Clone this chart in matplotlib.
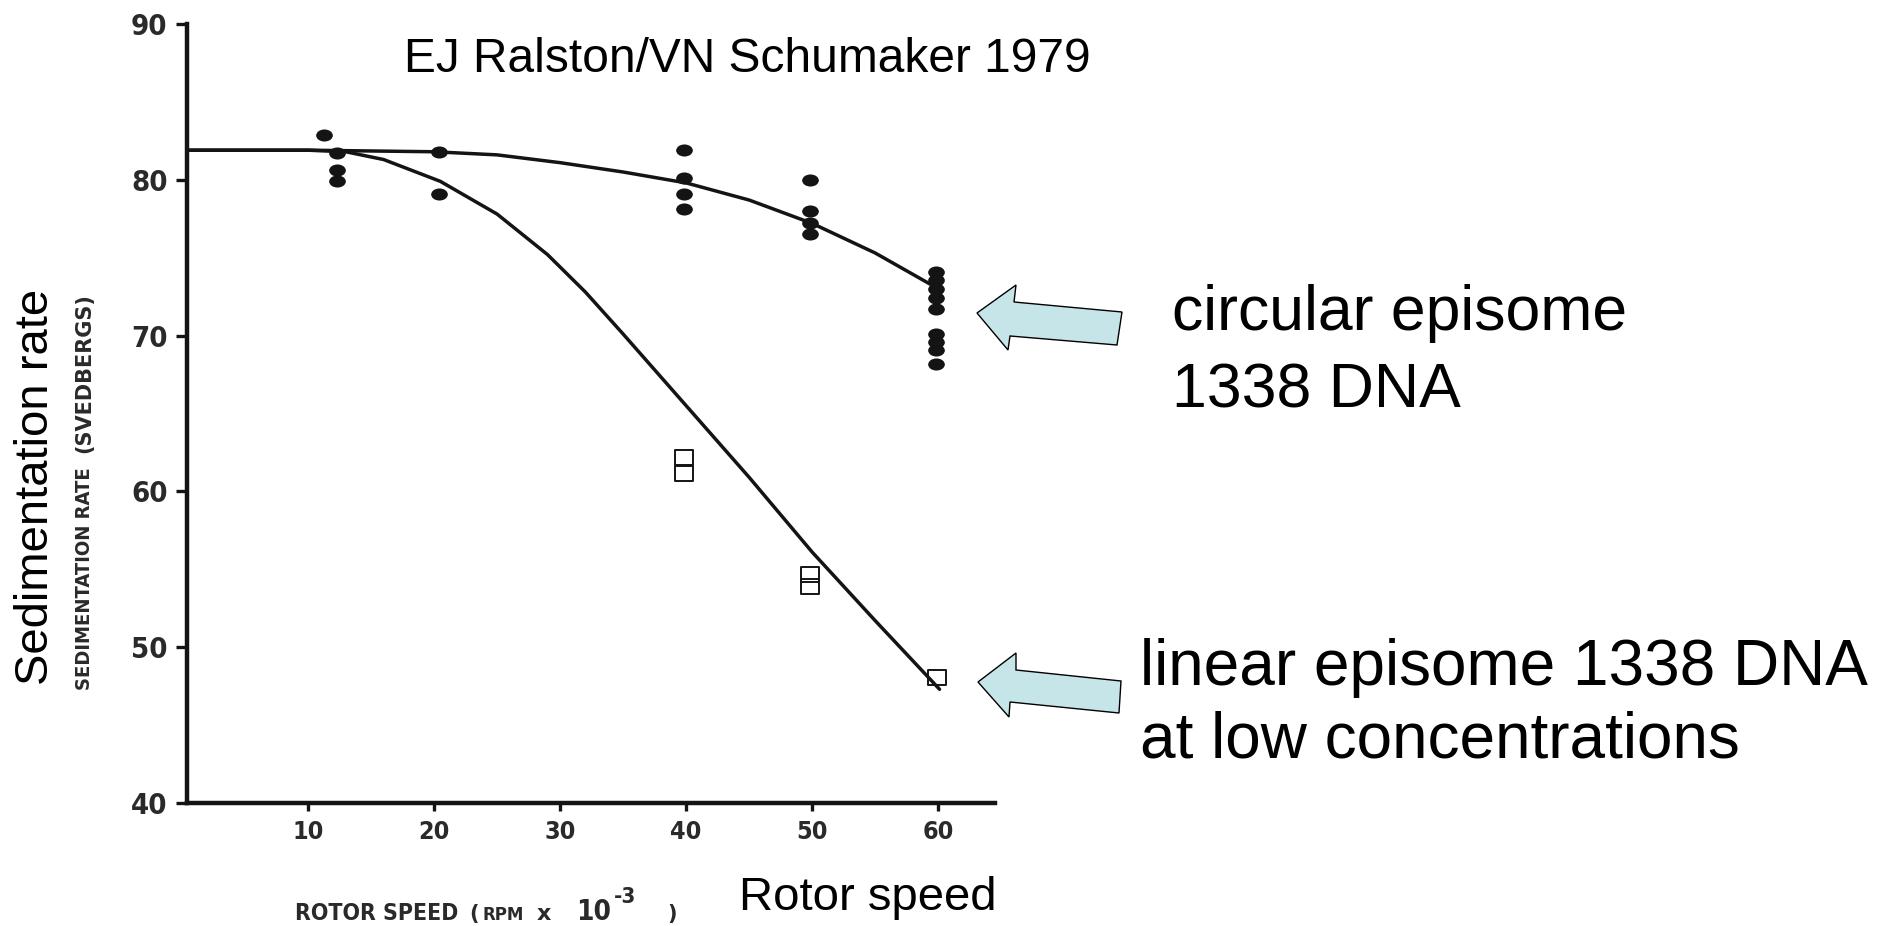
import matplotlib
matplotlib.use("Agg")
import matplotlib.pyplot as plt
from matplotlib.patches import Polygon
from matplotlib.path import Path
from matplotlib.transforms import Affine2D

# ---------------- data ----------------
circ_speed = [11.3, 12.3, 12.3, 12.3, 20.4, 20.4,
              39.8, 39.8, 39.8, 39.8,
              49.8, 49.8, 49.8, 49.8,
              59.8, 59.8, 59.8, 59.8, 59.8, 59.8, 59.8, 59.8, 59.8]
circ_sed = [82.9, 81.7, 80.6, 79.9, 81.8, 79.1,
            81.9, 80.1, 79.1, 78.1,
            80.0, 78.0, 77.2, 76.5,
            74.1, 73.6, 73.0, 72.4, 71.7, 70.1, 69.6, 69.1, 68.2]

lin_speed = [39.8, 39.8, 49.8, 49.8, 59.9]
lin_sed = [62.2, 61.2, 54.7, 53.9, 48.1]

circ_curve_x = [0, 10, 20, 25, 30, 35, 40, 45, 50, 55, 59.8]
circ_curve_y = [81.9, 81.9, 81.8, 81.6, 81.1, 80.5, 79.8, 78.7, 77.2, 75.3, 73.1]

lin_curve_x = [0, 10, 13, 16, 20.5, 25, 29, 32, 35, 40, 45, 50, 55, 60.1]
lin_curve_y = [81.9, 81.9, 81.8, 81.3, 79.9, 77.8, 75.2, 72.8, 70.1, 65.5, 60.9, 56.1, 51.7, 47.3]

x_ticks = [10, 20, 30, 40, 50, 60]
y_ticks = [40, 50, 60, 70, 80, 90]

title_text = "EJ Ralston/VN Schumaker 1979"
circ_label = ["circular episome", "1338 DNA"]
lin_label = ["linear episome 1338 DNA", "at low concentrations"]

# ---------------- layout helpers ----------------
W, H = 1891, 926
def fx(px):
    return px / W
def fy(py):
    return 1 - py / H

plt.rcParams['font.family'] = ['Liberation Sans', 'DejaVu Sans']

fig = plt.figure(figsize=(W / 100, H / 100), dpi=100)
fig.patch.set_facecolor('white')

ax = fig.add_axes([fx(187), fy(803), fx(995) - fx(187), fy(24) - fy(803)])
ax.set_xlim(0.4, 64.5)
ax.set_ylim(40, 90)

ink = '#141414'
grey = '#2a2a2a'
typ_c = dict(family='DejaVu Sans', stretch='condensed', weight='bold', color=grey)
typ = dict(family='DejaVu Sans', weight='bold', color=grey)

for s in ['top', 'right']:
    ax.spines[s].set_visible(False)
for s in ['left', 'bottom']:
    ax.spines[s].set_linewidth(3.2)
    ax.spines[s].set_color(ink)

ax.set_xticks(x_ticks)
ax.set_yticks(y_ticks)
ax.set_xticklabels([str(v) for v in x_ticks], fontsize=18, **typ_c)
ax.set_yticklabels([str(v) for v in y_ticks], fontsize=21, **typ_c)
ax.tick_params(axis='both', direction='out', width=2.4, color=ink)
ax.tick_params(axis='y', length=8, pad=6)
ax.tick_params(axis='x', length=6, pad=6)

# curves
ax.plot(circ_curve_x, circ_curve_y, color=ink, lw=2.5, solid_capstyle='round', zorder=3)
ax.plot(lin_curve_x, lin_curve_y, color=ink, lw=2.5, solid_capstyle='round', zorder=3)

# markers
ellipse = Path.unit_circle().transformed(Affine2D().scale(1.38, 1.0))
rect = Path([(-1.25, -1), (1.25, -1), (1.25, 1), (-1.25, 1), (-1.25, -1)],
            [Path.MOVETO, Path.LINETO, Path.LINETO, Path.LINETO, Path.CLOSEPOLY])
ax.plot(circ_speed, circ_sed, linestyle='none', marker=ellipse, ms=12,
        color=ink, markeredgewidth=0, zorder=4)
ax.plot(lin_speed, lin_sed, linestyle='none', marker=rect, ms=13.5,
        markerfacecolor='none', markeredgecolor=ink, markeredgewidth=1.4, zorder=4)

# ---------------- texts ----------------
fig.text(fx(404), fy(72), title_text, fontsize=34.5, ha='left', va='baseline', color='black')
fig.text(fx(1172), fy(330), circ_label[0], fontsize=45, ha='left', va='baseline', color='black')
fig.text(fx(1172), fy(407), circ_label[1], fontsize=45, ha='left', va='baseline', color='black')
fig.text(fx(1140), fy(685), lin_label[0], fontsize=46, ha='left', va='baseline', color='black')
fig.text(fx(1140), fy(757), lin_label[1], fontsize=46, ha='left', va='baseline', color='black')
fig.text(fx(739), fy(910), "Rotor speed", fontsize=34, ha='left', va='baseline', color='black')
fig.text(fx(36), fy(487), "Sedimentation rate", fontsize=34, rotation=90,
         ha='center', va='center', color='black')

# old typewriter-style axis labels
fig.text(fx(84), fy(690), "SEDIMENTATION RATE", fontsize=14.5, rotation=90,
         ha='center', va='bottom', **typ_c)
fig.text(fx(84), fy(453), "(SVEDBERGS)", fontsize=15, rotation=90,
         ha='center', va='bottom', **typ)
fig.text(fx(295), fy(920), "ROTOR SPEED", fontsize=16.5, ha='left', va='baseline', **typ_c)
fig.text(fx(469), fy(920), "(", fontsize=15, ha='left', va='baseline', **typ)
fig.text(fx(483), fy(920), "RPM", fontsize=12, ha='left', va='baseline', **typ)
fig.text(fx(537), fy(920), "x", fontsize=16, ha='left', va='baseline', **typ)
fig.text(fx(576), fy(920), "10", fontsize=20, ha='left', va='baseline', **typ_c)
fig.text(fx(614), fy(903), "-3", fontsize=16, ha='left', va='baseline', **typ_c)
fig.text(fx(667), fy(920), ")", fontsize=15, ha='left', va='baseline', **typ)

# ---------------- block arrows ----------------
arrow_fill = '#c6e5e8'
arrow1 = [(977, 313), (1016, 285), (1014, 302), (1122, 312),
          (1117, 345), (1010, 336), (1008, 350)]
arrow2 = [(978, 682), (1016, 653), (1016, 670), (1121, 681),
          (1119, 713), (1010, 702), (1009, 717)]
for pts in (arrow1, arrow2):
    poly = Polygon([(fx(x), fy(y)) for x, y in pts], closed=True,
                   transform=fig.transFigure, facecolor=arrow_fill,
                   edgecolor='black', linewidth=1.0, joinstyle='miter')
    fig.patches.append(poly)

fig.savefig("out.png", dpi=100, facecolor='white')
